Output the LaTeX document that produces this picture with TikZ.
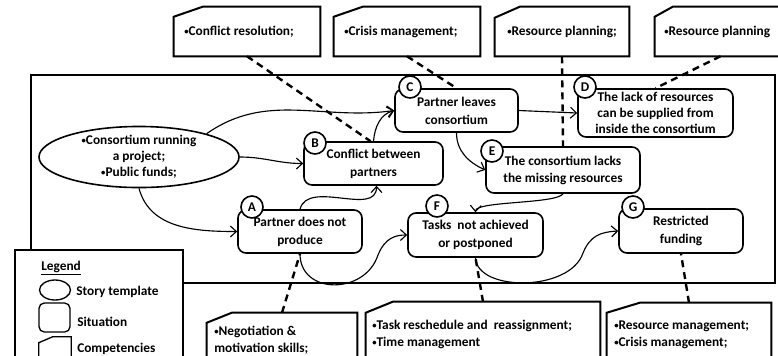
\documentclass[tikz,border=0pt]{standalone}
\usepackage{fontspec}
\setmainfont{Carlito}
\usetikzlibrary{arrows.meta,shapes.geometric}
\newdimen\pxu \pxu=0.75pt
\newcommand\dfont{\fontsize{10}{13.5}\selectfont\bfseries}
\newcommand\bul{{\fontsize{6.5}{6.5}\selectfont\raisebox{0.25ex}{•}}}
\newcommand\compoutline[3]{\draw[compline] (#1.south west) -- (#1.south east) -- (#1.north east) -- ([xshift=#2\pxu]#1.north west) -- ([yshift=-#3\pxu]#1.north west) -- cycle;}
\tikzset{
  sz/.style 2 args={minimum width=#1\pxu, minimum height=#2\pxu},
  sit/.style={draw, fill=white, line width=1.2pt, rounded corners=6pt, inner sep=0pt, align=center, font=\dfont},
  lbl/.style={circle, draw, fill=white, line width=1.2pt, minimum size=16.5pt, inner sep=0pt, font=\dfont},
  comp/.style={rectangle, inner sep=0pt},
  compline/.style={draw, fill=white, line width=1.5pt},
  ctext/.style={inner sep=0pt, font=\dfont, align=left},
  conn/.style={line width=0.85pt, -{Straight Barb[length=4.5pt,width=8.25pt]}},
  dlink/.style={line width=1.8pt, dash pattern=on 5.25pt off 3.75pt},
}
\begin{document}
\begin{tikzpicture}[x=0.75pt,y=-0.75pt]
\useasboundingbox (0,0) rectangle (778,355);
\clip (0,0) rectangle (778,355);
% main frame
\draw[line width=1.2pt] (31,75) rectangle (775,283);

% top competency boxes
\node[comp, sz={146}{49}] (T1) at (247,31.5) {};
\node[comp, sz={146}{49}] (T2) at (407,31.5) {};
\node[comp, sz={134}{49}] (T3) at (562,31.5) {};
\node[comp, sz={145}{49}] (T4) at (727.5,31.5) {};
\compoutline{T1}{29}{10}
\compoutline{T2}{29}{10}
\compoutline{T3}{25}{11}
\compoutline{T4}{18}{10}
\node[ctext, anchor=west] (T1t) at (184,32) {\bul Conflict resolution;};
\node[ctext, anchor=west] (T2t) at (344,32) {\bul Crisis management;};
\node[ctext, anchor=west] (T3t) at (507,32) {\bul Resource planning;};
\node[ctext, anchor=west] (T4t) at (664,32) {\bul Resource planning};

% bottom competency boxes
\node[comp, sz={150}{62}] (L1) at (282,344) {};
\node[comp, sz={234}{73}] (L2) at (483,338.5) {};
\node[comp, sz={164}{72}] (L3) at (689,339) {};
\compoutline{L1}{25}{10}
\compoutline{L2}{27}{11}
\compoutline{L3}{33}{10}
\node[ctext, anchor=west, font=\fontsize{10}{12.75}\selectfont\bfseries] (L1t) at (214,340.5) {\bul Negotiation \&\\motivation skills;};
\node[ctext, anchor=west, font=\fontsize{10}{12.75}\selectfont\bfseries] (L2t) at (372,334.5) {\bul Task reschedule and~ reassignment;\\\bul Time management};
\node[ctext, anchor=west, font=\fontsize{10}{12.75}\selectfont\bfseries] (L3t) at (614,334.5) {\bul Resource management;\\\bul Crisis management;};

% legend
\node[draw, fill=white, line width=1.2pt, sz={168}{120}] (Lg) at (99,310) {};
\node[ctext, anchor=west] (Lgt) at (41,268) {\underline{Legend}};
\node[draw, ellipse, line width=1pt, sz={31}{20}, inner sep=0pt] (i1) at (55,290) {};
\node[ctext, anchor=west] (i1t) at (76,292) {Story template};
\node[draw, rounded corners=4pt, line width=1pt, sz={31}{29}, inner sep=0pt] (i2) at (54.5,317.5) {};
\node[ctext, anchor=west] (i2t) at (77,322) {Situation};
\node[comp, sz={32}{30}] (i3) at (55,352) {};
\draw[line width=1pt] (i3.south west) -- (i3.south east) -- (i3.north east) -- ([xshift=14\pxu]i3.north west) -- ([yshift=-6\pxu]i3.north west) -- cycle;
\node[ctext, anchor=west] (i3t) at (77,349) {Competencies};

% story template
\node[draw, ellipse, fill=white, line width=1.2pt, sz={200}{60}, inner sep=0pt, align=center, font=\fontsize{10}{12}\selectfont\bfseries] (S) at (139,157) {\bul Consortium running\\a project;\\\bul Public funds;};

% situations
\node[sit, sz={123}{43}] (C) at (456.5,110.5) {Partner leaves\\consortium};
\node[sit, sz={139}{43}] (B) at (373.5,163.5) {Conflict between\\partners};
\node[sit, sz={124}{43}] (A) at (300,231.5) {Partner does not\\produce};
\node[sit, sz={135}{44}] (F) at (475.5,235) {Tasks~ not achieved\\or postponed};
\node[sit, sz={154}{46}, font=\fontsize{10}{12.75}\selectfont\bfseries] (E) at (563,170) {The consortium lacks\\the missing resources};
\node[sit, sz={155}{48}, font=\fontsize{10}{12}\selectfont\bfseries] (D) at (655.5,113) {The lack of resources\\can be supplied from\\inside the consortium};
\node[sit, sz={124}{44}] (G) at (681,231) {Restricted\\funding};

% connectors
\draw[conn] (S.19) to[out=35,in=188] (C.west);
\draw[conn] (S.east) to[out=0,in=180] (B.west);
\draw[conn] (S.south) to[out=-75,in=180] (A.west);
\draw[conn] (A.north) to[out=75,in=-90] ([xshift=3\pxu]B.south);
\draw[conn] (B.north) to[out=85,in=195] (C.west);
\draw[conn] (C.south) to[out=-90,in=155] (E.west);
\draw[conn] (C.east) -- (D.west);
\draw[conn] (E.south) .. controls (556,204) and (476,201) .. (F.north);
\draw[conn] (A.south) .. controls (300,295) and (365,295) .. (378,255) .. controls (385,238) and (395,235) .. (F.west);
\draw[conn] (F.south) .. controls (477,292) and (570,292) .. (583,253) .. controls (590,236) and (600,232) .. (G.west);

% dashed links
\draw[dlink] (T1.south) -- ([xshift=-3\pxu]B.north);
\draw[dlink] (T2.south) -- (C.north);
\draw[dlink] (T3.south) -- (E.north);
\draw[dlink] ([xshift=-7\pxu]T4.south) -- (D.north);
\draw[dlink] (L1.north) -- (A.south);
\draw[dlink] (L2.north) -- (F.south);
\draw[dlink] (L3.north) -- (G.south);

% labels
\node[lbl] (lA) at (252,207) {A};
\node[lbl] (lB) at (315,143) {B};
\node[lbl] (lC) at (410,87) {C};
\node[lbl] (lD) at (585,87) {D};
\node[lbl] (lE) at (492,151) {E};
\node[lbl] (lF) at (437,206) {F};
\node[lbl] (lG) at (633,207) {G};
\end{tikzpicture}
\end{document}
